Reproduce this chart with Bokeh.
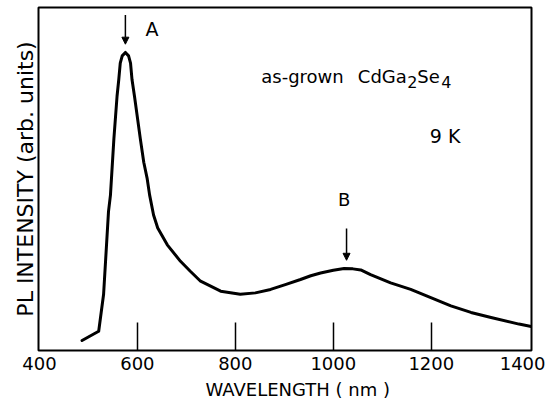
from bokeh.plotting import figure
from bokeh.models import Range1d, FixedTicker, Arrow, NormalHead, Title
from bokeh.core.properties import value
from bokeh.embed import file_html
from bokeh.resources import INLINE

# Photoluminescence spectrum of as-grown CdGa2Se4 at 9 K
wavelength_nm = [487, 521, 531, 541, 545, 552, 558.5, 562, 565, 569, 575.5, 582, 586,
                 589, 594, 606, 613, 620, 625, 633, 641.5, 661, 688, 708, 729, 770,
                 810, 841, 872, 902, 933, 954, 974, 1000, 1022, 1040, 1056, 1076, 1117,
                 1158, 1199, 1240, 1281, 1322, 1379, 1404]
intensity = [2.9, 5.6, 16.4, 40.5, 45.3, 61.7, 74.2, 79.0, 83.8, 85.9, 86.9, 85.9, 83.8,
             79.0, 74.2, 61.7, 54.9, 50.1, 45.3, 39.5, 35.7, 30.8, 26.0, 23.1, 20.2, 17.3,
             16.4, 16.8, 17.8, 19.2, 20.7, 21.8, 22.6, 23.4, 23.9, 23.8, 23.5, 22.1, 19.7,
             17.8, 15.4, 13.0, 11.1, 9.6, 7.7, 7.0]
x_ticks = [400, 600, 800, 1000, 1200, 1400]
x_inner_ticks = [600, 800, 1000, 1200]
peak_labels = ["A", "B"]
peak_positions = [575.5, 1027]
x_title = "WAVELENGTH ( nm )"
y_title = "PL INTENSITY (arb. units)"

FONT = "DejaVu Sans"

p = figure(width=545, height=403, output_backend="svg", toolbar_location=None,
           x_range=Range1d(398.1, 1404.6), y_range=Range1d(0, 100),
           min_border_left=38, min_border_right=14, min_border_top=7,
           min_border_bottom=50)
p.grid.visible = False
p.background_fill_color = "white"
p.border_fill_color = "white"
p.outline_line_color = "black"
p.outline_line_width = 2
p.outline_line_alpha = 1

# x axis
xa = p.xaxis[0]
xa.ticker = FixedTicker(ticks=x_ticks, minor_ticks=x_inner_ticks)
xa.axis_line_color = None
xa.major_tick_in = 0
xa.major_tick_out = 0
xa.minor_tick_in = 28
xa.minor_tick_out = 0
xa.minor_tick_line_color = "black"
xa.minor_tick_line_width = 1.5
xa.major_label_text_font = FONT
xa.major_label_text_font_size = "18px"
xa.major_label_text_color = "black"
xa.major_label_standoff = 6

# x axis title (placed slightly right of centre, as in the original)
p.add_layout(Title(text=x_title, align="left", offset=167, text_font=FONT,
                   text_font_size="18px", text_font_style="normal",
                   text_color="black", standoff=8, text_line_height=0.5,
                   vertical_align="bottom"), "below")

# y axis
ya = p.yaxis[0]
ya.ticker = FixedTicker(ticks=[])
ya.axis_line_color = None
ya.major_tick_out = 0
ya.major_tick_in = 0
ya.minor_tick_out = 0
ya.minor_tick_in = 0
ya.major_label_standoff = 0
ya.axis_label = y_title
ya.axis_label_text_font = FONT
ya.axis_label_text_font_size = "22px"
ya.axis_label_text_font_style = "normal"
ya.axis_label_text_color = "black"
ya.axis_label_standoff = 1

p.line(wavelength_nm, intensity, line_color="black", line_width=3,
       line_join="round", line_cap="round")

# peak markers
p.text(x=[630], y=[93.7], text=[peak_labels[0]], text_font=value(FONT),
       text_font_size="19px", text_align="center", text_baseline="middle",
       text_color="black")
p.text(x=[1022], y=[44.1], text=[peak_labels[1]], text_font=value(FONT),
       text_font_size="18px", text_align="center", text_baseline="middle",
       text_color="black")
p.add_layout(Arrow(x_start=peak_positions[0], y_start=97.8, x_end=peak_positions[0], y_end=89.3,
                   line_width=1.5, line_color="black",
                   end=NormalHead(size=7, fill_color="black", line_color="black")))
p.add_layout(Arrow(x_start=peak_positions[1], y_start=35.6, x_end=peak_positions[1], y_end=26.3,
                   line_width=1.5, line_color="black",
                   end=NormalHead(size=7, fill_color="black", line_color="black")))

# sample label with subscripts
ax, ay = 852.9, 79.9
pieces = [("as-grown", 0, 0, "18px"), ("CdGa", 96.6, 0, "18px"), ("2", 146, 6, "16px"),
          ("Se", 156, 0, "18px"), ("4", 180, 6, "16px")]
for t, dx, dy, fs in pieces:
    p.text(x=[ax], y=[ay], text=[t], x_offset=dx, y_offset=dy, text_font=value(FONT),
           text_font_size=fs, text_align="left", text_baseline="alphabetic",
           text_color="black")

p.text(x=[1197], y=[62.5], text=["9 K"], text_font=value(FONT), text_font_size="19px",
       text_align="left", text_baseline="alphabetic", text_color="black")

open("out.html", "w").write(file_html(p, INLINE))
